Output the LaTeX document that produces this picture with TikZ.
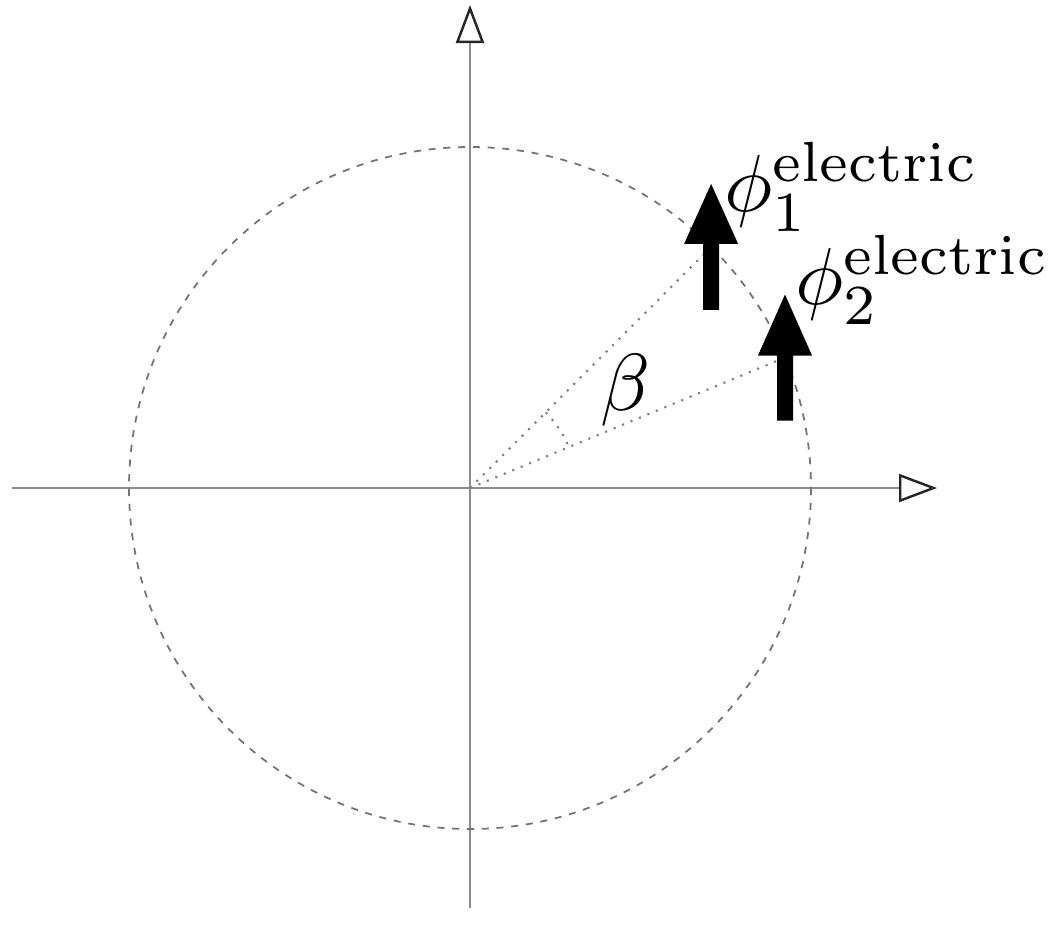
\documentclass[tikz,border=0pt]{standalone}
\usetikzlibrary{arrows.meta}
\begin{document}
\begin{tikzpicture}[x=0.01cm,y=-0.01cm,
  axis/.style={draw=black!45,line width=0.6pt,-{Triangle[open,length=38*0.01cm,width=28*0.01cm,line width=0.7pt,color=black!85]}},
  guide/.style={draw=black!50,line width=0.6pt,dotted},
  fatarrow/.style={fill=black},
  lbl/.style={inner sep=0pt,scale=2.3}]
\useasboundingbox (0,0) rectangle (1049,938);
\coordinate (O) at (470,488);
\coordinate (W) at (12,488);
\coordinate (E) at (937,488);
\coordinate (S) at (470,908);
\coordinate (N) at (470,5);
\draw[axis] (W) -- (E);
\draw[axis] (S) -- (N);
\draw[black!55,line width=0.5pt,dash pattern=on 2pt off 2.2pt] (O) circle [radius=341];
\coordinate (P1) at (711.1,246.9);
\coordinate (P2) at (785.0,357.5);
\draw[guide] (O) -- (P1);
\draw[guide] (O) -- (P2);
\draw[guide] (O) ++(-45:107) arc[start angle=-45,end angle=-22.5,radius=107];
\fill[fatarrow,shift={(P1)}] (0,-63) -- (27,-3) -- (8,-3) -- (8,63) -- (-8,63) -- (-8,-3) -- (-27,-3) -- cycle;
\fill[fatarrow,shift={(P2)}] (0,-63) -- (27,-2) -- (8,-2) -- (8,63) -- (-8,63) -- (-8,-2) -- (-27,-2) -- cycle;
\node[lbl,anchor=west] (L1) at (723,187) {$\phi_1^{\mathrm{electric}}$};
\node[lbl,anchor=west] (L2) at (794,280) {$\phi_2^{\mathrm{electric}}$};
\node[lbl] (B) at (625,390) {$\beta$};
\end{tikzpicture}
\end{document}
